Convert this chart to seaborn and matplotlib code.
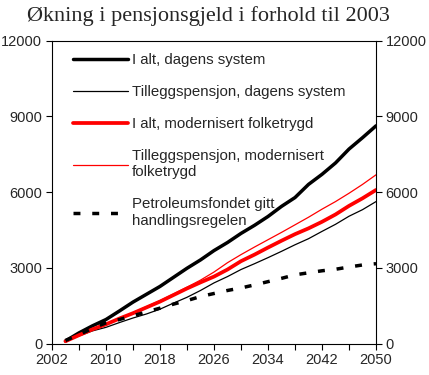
import matplotlib
matplotlib.use("Agg")
import matplotlib.pyplot as plt
import seaborn as sns
import numpy as np
import pandas as pd

years = list(range(2004, 2051, 2))

ialt_dagens = [100, 420, 700, 950, 1290, 1640, 1950, 2260, 2620, 2980, 3310, 3680,
               4000, 4360, 4680, 5030, 5430, 5780, 6300, 6700, 7150, 7700, 8150, 8620]
tillegg_dagens = [80, 300, 500, 640, 830, 1010, 1170, 1360, 1600, 1830, 2100, 2400,
                  2650, 2930, 3160, 3400, 3650, 3910, 4150, 4440, 4720, 5040, 5300, 5620]
ialt_modern = [90, 330, 560, 760, 990, 1200, 1430, 1660, 1920, 2180, 2420, 2650,
               2930, 3260, 3520, 3800, 4070, 4330, 4560, 4820, 5110, 5450, 5750, 6080]
tillegg_modern = [90, 330, 560, 770, 1000, 1220, 1460, 1700, 1960, 2230, 2510, 2830,
                  3200, 3520, 3820, 4110, 4400, 4700, 5000, 5320, 5620, 5950, 6300, 6680]
petroleum = [120, 350, 600, 820, 950, 1100, 1250, 1400, 1560, 1700, 1860, 1980,
             2100, 2200, 2320, 2450, 2580, 2720, 2800, 2880, 2940, 3030, 3110, 3160]

labels = ["I alt, dagens system",
          "Tilleggspensjon, dagens system",
          "I alt, modernisert folketrygd",
          "Tilleggspensjon, modernisert\nfolketrygd",
          "Petroleumsfondet gitt\nhandlingsregelen"]
series = [ialt_dagens, tillegg_dagens, ialt_modern, tillegg_modern, petroleum]
colors = ["black", "black", "#ff0000", "#ff0000", "black"]
widths = [2.5, 0.9, 2.7, 0.9, 2.5]
styles = ["-", "-", "-", "-", (0, (2.0, 3.4))]

xticks_major = list(range(2002, 2051, 8))
xticks_minor = list(range(2002, 2051, 4))
yticks = [0, 3000, 6000, 9000, 12000]

sns.set_style("white")
plt.rcParams['font.family'] = ['Liberation Sans', 'DejaVu Sans']

fig = plt.figure(figsize=(4.29, 3.75), dpi=100)
ax = fig.add_axes([52 / 429, 1 - 343.5 / 375, (376 - 52) / 429, (343.5 - 40.5) / 375])

for vals, lab, c, w, ls in zip(series, labels, colors, widths, styles):
    sns.lineplot(x=years, y=vals, ax=ax, color=c, linewidth=w, linestyle=ls, label=lab)

ax.set_xlim(2002, 2050)
ax.set_ylim(0, 12000)
ax.set_xticks(xticks_major)
ax.set_xticks(xticks_minor, minor=True)
ax.set_yticks(yticks)
ax.tick_params(axis='both', which='both', direction='out', length=4, width=0.8,
               color='black', labelsize=10.5, pad=3)
ax.tick_params(axis='y', which='both', left=True, right=True, labelleft=True, labelright=True)
ax.tick_params(axis='x', which='both', bottom=True)
for s in ax.spines.values():
    s.set_color('black')
    s.set_linewidth(0.8)
ax.set_xlabel("")
ax.set_ylabel("")

leg = ax.legend(loc='upper left', bbox_to_anchor=(0.045, 0.978), frameon=False,
                fontsize=10.8, handlelength=3.7, handletextpad=0.25,
                labelspacing=1.2, borderaxespad=0.0)

fig.text(0.487, 0.945, "Økning i pensjonsgjeld i forhold til 2003", ha='center', va='baseline',
         fontsize=16, family=['Liberation Serif', 'DejaVu Serif'])

fig.savefig("out.png", dpi=100)
